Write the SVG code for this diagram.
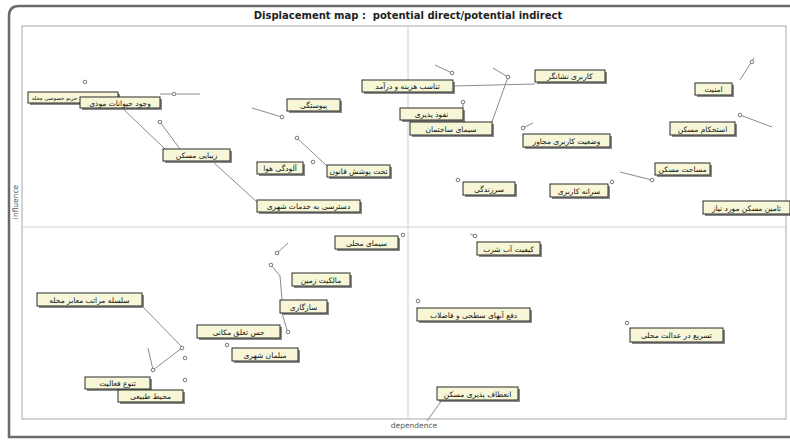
<svg xmlns="http://www.w3.org/2000/svg" width="790" height="441" viewBox="0 0 790 441">
<style>
.frame{fill:none;stroke:#6a6a6a;stroke-width:2.5}
.inner{fill:none;stroke:#a8a8a8;stroke-width:1}
.axis{stroke:#d0d0d0;stroke-width:1}
.title{font-family:"DejaVu Sans","Liberation Sans",sans-serif;font-weight:bold;font-size:10px;fill:#222}
.axlab{font-family:"DejaVu Sans","Liberation Sans",sans-serif;font-size:7.5px;fill:#555}
.sh{fill:#8a8a8a}
.bx{fill:#f7f7d8;stroke:#2a2a2a;stroke-width:1}
.lb{font-family:"DejaVu Sans","Noto Sans",sans-serif;font-size:7.5px;fill:#111;text-anchor:middle;direction:rtl}
.cn{stroke:#8c8c8c;stroke-width:1;fill:none}
.pt{fill:#fff;stroke:#777;stroke-width:1}
</style>
<rect width="790" height="441" fill="#fff"/>
<path class="frame" d="M790 6 L19 6 Q9 6 9 16 L9 437 L790 437"/>
<rect class="inner" x="22" y="26" width="764" height="393"/>
<line class="axis" x1="408" y1="26" x2="408" y2="419"/>
<line class="axis" x1="22" y1="227" x2="786" y2="227"/>
<text class="title" x="408" y="19" text-anchor="middle">Displacement map :&#160; potential direct/potential indirect</text>
<text class="axlab" x="414" y="428" text-anchor="middle">dependence</text>
<text class="axlab" transform="translate(18 202) rotate(-90)" text-anchor="middle">influence</text>

<g id="connectors">
<line class="cn" x1="160" y1="94" x2="200" y2="94"/>
<line class="cn" x1="118" y1="104" x2="165" y2="149"/>
<line class="cn" x1="160" y1="122" x2="180" y2="149"/>
<line class="cn" x1="212" y1="161" x2="257" y2="202"/>
<line class="cn" x1="252" y1="108" x2="282" y2="117"/>
<line class="cn" x1="297" y1="138" x2="327" y2="166"/>
<line class="cn" x1="435" y1="65" x2="452" y2="73"/>
<line class="cn" x1="493" y1="68" x2="508" y2="77"/>
<line class="cn" x1="508" y1="77" x2="492" y2="122"/>
<line class="cn" x1="453" y1="86" x2="535" y2="84"/>
<line class="cn" x1="463" y1="102" x2="463" y2="108"/>
<line class="cn" x1="523" y1="128" x2="533" y2="123"/>
<line class="cn" x1="740" y1="80" x2="754" y2="58"/>
<line class="cn" x1="740" y1="115" x2="772" y2="127"/>
<line class="cn" x1="620" y1="172" x2="652" y2="180"/>
<line class="cn" x1="288" y1="243" x2="277" y2="253"/>
<polyline class="cn" points="271,265 280,276 282,300"/>
<line class="cn" x1="282" y1="313" x2="287" y2="330"/>
<line class="cn" x1="470" y1="234" x2="475" y2="236"/>
<line class="cn" x1="143" y1="307" x2="182" y2="347"/>
<line class="cn" x1="182" y1="348" x2="153" y2="370"/>
<line class="cn" x1="148" y1="348" x2="153" y2="370"/>
<line class="cn" x1="445" y1="396" x2="427" y2="421"/>
<g>
<circle class="pt" cx="85" cy="82" r="1.8"/>
<circle class="pt" cx="174" cy="94" r="1.8"/>
<circle class="pt" cx="160" cy="122" r="1.8"/>
<circle class="pt" cx="282" cy="117" r="1.8"/>
<circle class="pt" cx="297" cy="138" r="1.8"/>
<circle class="pt" cx="313" cy="162" r="1.8"/>
<circle class="pt" cx="452" cy="73" r="1.8"/>
<circle class="pt" cx="508" cy="77" r="1.8"/>
<circle class="pt" cx="463" cy="102" r="1.8"/>
<circle class="pt" cx="523" cy="128" r="1.8"/>
<circle class="pt" cx="752" cy="62" r="1.8"/>
<circle class="pt" cx="740" cy="115" r="1.8"/>
<circle class="pt" cx="652" cy="180" r="1.8"/>
<circle class="pt" cx="612" cy="182" r="1.8"/>
<circle class="pt" cx="458" cy="180" r="1.8"/>
<circle class="pt" cx="403" cy="235" r="1.8"/>
<circle class="pt" cx="277" cy="253" r="1.8"/>
<circle class="pt" cx="271" cy="265" r="1.8"/>
<circle class="pt" cx="288" cy="332" r="1.8"/>
<circle class="pt" cx="227" cy="345" r="1.8"/>
<circle class="pt" cx="418" cy="301" r="1.8"/>
<circle class="pt" cx="475" cy="236" r="1.8"/>
<circle class="pt" cx="627" cy="323" r="1.8"/>
<circle class="pt" cx="182" cy="348" r="1.8"/>
<circle class="pt" cx="185" cy="358" r="1.8"/>
<circle class="pt" cx="153" cy="370" r="1.8"/>
<circle class="pt" cx="185" cy="380" r="1.8"/>
</g>
</g>

<g id="n1"><rect class="sh" x="30" y="94" width="90" height="11"/><rect class="bx" x="28" y="92" width="90" height="11"/><text class="lb" x="54.5" y="99.8" style="font-size:5.4px">حریم خصوصی محله</text></g>
<g id="n2"><rect class="sh" x="82" y="99" width="80" height="11"/><rect class="bx" x="80" y="97" width="80" height="11"/><text class="lb" x="120" y="105.5">وجود حیوانات موذی</text></g>
<g id="n3"><rect class="sh" x="165" y="151" width="67" height="12"/><rect class="bx" x="163" y="149" width="67" height="12"/><text class="lb" x="196.5" y="158">زیبایی مسکن</text></g>
<g id="n4"><rect class="sh" x="289" y="101" width="53" height="12"/><rect class="bx" x="287" y="99" width="53" height="12"/><text class="lb" x="313.5" y="108">پیوستگی</text></g>
<g id="n5"><rect class="sh" x="259" y="164" width="46" height="12"/><rect class="bx" x="257" y="162" width="46" height="12"/><text class="lb" x="280" y="171">آلودگی هوا</text></g>
<g id="n6"><rect class="sh" x="329" y="167" width="63" height="12"/><rect class="bx" x="327" y="165" width="63" height="12"/><text class="lb" x="358.5" y="174">تحت پوشش قانون</text></g>
<g id="n7"><rect class="sh" x="259" y="202" width="103" height="12"/><rect class="bx" x="257" y="200" width="103" height="12"/><text class="lb" x="308.5" y="209">دسترسی به خدمات شهری</text></g>
<g id="n8"><rect class="sh" x="364" y="82" width="91" height="12"/><rect class="bx" x="362" y="80" width="91" height="12"/><text class="lb" x="407.5" y="89">تناسب هزینه و درآمد</text></g>
<g id="n9"><rect class="sh" x="537" y="72" width="70" height="12"/><rect class="bx" x="535" y="70" width="70" height="12"/><text class="lb" x="570" y="79">کاربری نشانگر</text></g>
<g id="n10"><rect class="sh" x="402" y="110" width="63" height="12"/><rect class="bx" x="400" y="108" width="63" height="12"/><text class="lb" x="431.5" y="117">نفوذ پذیری</text></g>
<g id="n11"><rect class="sh" x="412" y="124" width="82" height="13"/><rect class="bx" x="410" y="122" width="82" height="13"/><text class="lb" x="451" y="131.5">سیمای ساختمان</text></g>
<g id="n12"><rect class="sh" x="525" y="136" width="87" height="13"/><rect class="bx" x="523" y="134" width="87" height="13"/><text class="lb" x="566.5" y="143.5">وضعیت کاربری مجاور</text></g>
<g id="n13"><rect class="sh" x="697" y="85" width="37" height="12"/><rect class="bx" x="695" y="83" width="37" height="12"/><text class="lb" x="713.5" y="92">امنیت</text></g>
<g id="n14"><rect class="sh" x="672" y="124" width="65" height="13"/><rect class="bx" x="670" y="122" width="65" height="13"/><text class="lb" x="702.5" y="131.5">استحکام مسکن</text></g>
<g id="n15"><rect class="sh" x="657" y="165" width="55" height="12"/><rect class="bx" x="655" y="163" width="55" height="12"/><text class="lb" x="682.5" y="172">مساحت مسکن</text></g>
<g id="n16"><rect class="sh" x="465" y="184" width="52" height="13"/><rect class="bx" x="463" y="182" width="52" height="13"/><text class="lb" x="489" y="191.5">سرزندگی</text></g>
<g id="n17"><rect class="sh" x="552" y="186" width="58" height="13"/><rect class="bx" x="550" y="184" width="58" height="13"/><text class="lb" x="579" y="193.5">سرانه کاربری</text></g>
<g id="n18"><rect class="sh" x="705" y="203" width="87" height="13"/><rect class="bx" x="703" y="201" width="87" height="13"/><text class="lb" x="746.5" y="210.5">تامین مسکن مورد نیاز</text></g>
<g id="n19"><rect class="sh" x="337" y="238" width="63" height="13"/><rect class="bx" x="335" y="236" width="63" height="13"/><text class="lb" x="366.5" y="245.5">سیمای محلی</text></g>
<g id="n20"><rect class="sh" x="479" y="244" width="63" height="13"/><rect class="bx" x="477" y="242" width="63" height="13"/><text class="lb" x="508.5" y="251.5">کیفیت آب شرب</text></g>
<g id="n21"><rect class="sh" x="294" y="275" width="58" height="13"/><rect class="bx" x="292" y="273" width="58" height="13"/><text class="lb" x="321" y="282.5">مالکیت زمین</text></g>
<g id="n22"><rect class="sh" x="282" y="302" width="47" height="13"/><rect class="bx" x="280" y="300" width="47" height="13"/><text class="lb" x="303.5" y="309.5">سازگاری</text></g>
<g id="n23"><rect class="sh" x="199" y="327" width="83" height="13"/><rect class="bx" x="197" y="325" width="83" height="13"/><text class="lb" x="238.5" y="334.5">حس تعلق مکانی</text></g>
<g id="n24"><rect class="sh" x="39" y="295" width="105" height="13"/><rect class="bx" x="37" y="293" width="105" height="13"/><text class="lb" x="89.5" y="302.5">سلسله مراتب معابر محله</text></g>
<g id="n25"><rect class="sh" x="419" y="310" width="113" height="13"/><rect class="bx" x="417" y="308" width="113" height="13"/><text class="lb" x="473.5" y="317.5">دفع آبهای سطحی و فاضلاب</text></g>
<g id="n26"><rect class="sh" x="632" y="330" width="93" height="14"/><rect class="bx" x="630" y="328" width="93" height="14"/><text class="lb" x="676.5" y="338">تسریع در عدالت محلی</text></g>
<g id="n27"><rect class="sh" x="234" y="350" width="66" height="13"/><rect class="bx" x="232" y="348" width="66" height="13"/><text class="lb" x="265" y="357.5">مبلمان شهری</text></g>
<g id="n28"><rect class="sh" x="87" y="379" width="65" height="12"/><rect class="bx" x="85" y="377" width="65" height="12"/><text class="lb" x="117.5" y="386">تنوع فعالیت</text></g>
<g id="n29"><rect class="sh" x="120" y="392" width="65" height="12"/><rect class="bx" x="118" y="390" width="65" height="12"/><text class="lb" x="150.5" y="399">محیط طبیعی</text></g>
<g id="n30"><rect class="sh" x="439" y="389" width="81" height="13"/><rect class="bx" x="437" y="387" width="81" height="13"/><text class="lb" x="477.5" y="396.5">انعطاف پذیری مسکن</text></g>
</svg>
